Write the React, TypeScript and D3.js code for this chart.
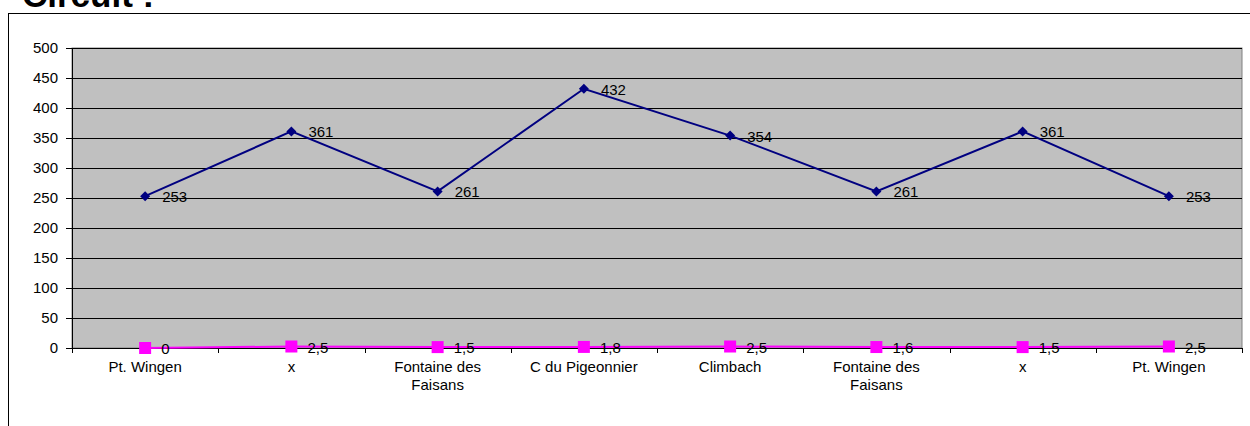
import { useEffect } from "react"
import * as d3 from "d3"

const categories = [
  ["Pt. Wingen"],
  ["x"],
  ["Fontaine des", "Faisans"],
  ["C du Pigeonnier"],
  ["Climbach"],
  ["Fontaine des", "Faisans"],
  ["x"],
  ["Pt. Wingen"],
]
const altitude = [253, 361, 261, 432, 354, 261, 361, 253]
const distance = [0, 2.5, 1.5, 1.8, 2.5, 1.6, 1.5, 2.5]
const yTicks = [0, 50, 100, 150, 200, 250, 300, 350, 400, 450, 500]

const W = 1250
const H = 426
const plot = { left: 72, right: 1242, top: 48, bottom: 348 }

const fmt = (v: number) => String(v).replace(".", ",")

export default function App() {
  useEffect(() => {
    document.body.style.margin = "0"
  }, [])

  const x = d3
    .scaleBand<number>()
    .domain(d3.range(categories.length))
    .range([plot.left, plot.right])
  const cx = (i: number) => (x(i) ?? 0) + x.bandwidth() / 2
  const y = d3.scaleLinear().domain([0, 500]).range([plot.bottom, plot.top])

  const line = d3
    .line<number>()
    .x((_, i) => cx(i))
    .y((d) => y(d))

  const font = "'Liberation Sans', Arial, sans-serif"

  return (
    <svg width={W} height={H} style={{ display: "block", fontFamily: font }}>
      <rect x={0} y={0} width={W} height={H} fill="#fff" />
      <text x={22} y={7} fontSize={35} fontWeight="bold" fill="#000">
        Circuit :
      </text>
      <rect x={8.5} y={13.5} width={W + 10} height={H + 10} fill="none" stroke="#000" />

      <rect
        x={plot.left}
        y={plot.top}
        width={plot.right - plot.left}
        height={plot.bottom - plot.top}
        fill="#c0c0c0"
        stroke="#808080"
      />
      {yTicks.map((t) => (
        <g key={t}>
          <line
            x1={plot.left - 6}
            x2={plot.right}
            y1={Math.round(y(t)) + 0.5}
            y2={Math.round(y(t)) + 0.5}
            stroke="#000"
          />
          <text x={58} y={y(t) + 5} textAnchor="end" fontSize={15} fill="#000">
            {t}
          </text>
        </g>
      ))}
      <line x1={plot.left + 0.5} x2={plot.left + 0.5} y1={plot.top} y2={plot.bottom} stroke="#000" />
      {d3.range(categories.length + 1).map((i) => {
        const xx = Math.round(plot.left + i * x.bandwidth()) + 0.5
        return <line key={i} x1={xx} x2={xx} y1={plot.bottom} y2={plot.bottom + 5} stroke="#000" />
      })}
      {categories.map((lines, i) => (
        <text key={i} x={cx(i)} textAnchor="middle" fontSize={15} fill="#000">
          {lines.map((l, j) => (
            <tspan key={j} x={cx(i)} y={372 + j * 18}>
              {l}
            </tspan>
          ))}
        </text>
      ))}

      <path d={line(distance) ?? ""} fill="none" stroke="#ff00ff" strokeWidth={2} />
      {distance.map((d, i) => (
        <g key={i}>
          <rect x={cx(i) - 6} y={y(d) - 6} width={12} height={12} fill="#ff00ff" />
          <text x={cx(i) + 16} y={y(d) + 6} fontSize={15} fill="#000">
            {fmt(d)}
          </text>
        </g>
      ))}

      <path d={line(altitude) ?? ""} fill="none" stroke="#000080" strokeWidth={2} />
      {altitude.map((d, i) => (
        <g key={i}>
          <path
            d={`M${cx(i)},${y(d) - 5}L${cx(i) + 5},${y(d)}L${cx(i)},${y(d) + 5}L${cx(i) - 5},${y(d)}Z`}
            fill="#000080"
          />
          <text x={cx(i) + 17} y={y(d) + 6} fontSize={15} fill="#000">
            {d}
          </text>
        </g>
      ))}
    </svg>
  )
}
